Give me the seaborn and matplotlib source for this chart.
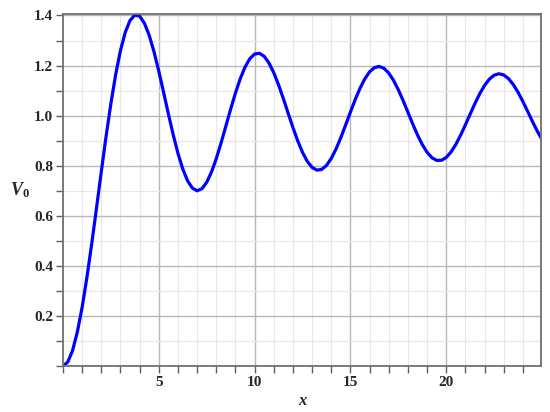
import matplotlib
matplotlib.use("Agg")
import matplotlib.pyplot as plt
import numpy as np
import pandas as pd
import seaborn as sns
from matplotlib.ticker import MultipleLocator

# ---- data ----
x_values = [0.0, 0.25, 0.5, 0.75, 1.0, 1.25, 1.5, 1.75, 2.0, 2.25, 2.5, 2.75,
            3.0, 3.25, 3.5, 3.75, 4.0, 4.25, 4.5, 4.75, 5.0, 5.25, 5.5, 5.75,
            6.0, 6.25, 6.5, 6.75, 7.0, 7.25, 7.5, 7.75, 8.0, 8.25, 8.5, 8.75,
            9.0, 9.25, 9.5, 9.75, 10.0, 10.25, 10.5, 10.75, 11.0, 11.25, 11.5, 11.75,
            12.0, 12.25, 12.5, 12.75, 13.0, 13.25, 13.5, 13.75, 14.0, 14.25, 14.5, 14.75,
            15.0, 15.25, 15.5, 15.75, 16.0, 16.25, 16.5, 16.75, 17.0, 17.25, 17.5, 17.75,
            18.0, 18.25, 18.5, 18.75, 19.0, 19.25, 19.5, 19.75, 20.0, 20.25, 20.5, 20.75,
            21.0, 21.25, 21.5, 21.75, 22.0, 22.25, 22.5, 22.75, 23.0, 23.25, 23.5, 23.75,
            24.0, 24.25, 24.5, 24.75, 25.0]
v0_values = [0.0000, 0.0156, 0.0615, 0.1358, 0.2348, 0.3541, 0.4882, 0.6310, 0.7761, 0.9173, 1.0484, 1.1641,
             1.2601, 1.3328, 1.3801, 1.4014, 1.3972, 1.3692, 1.3205, 1.2551, 1.1776, 1.0931, 1.0068, 0.9240,
             0.8494, 0.7869, 0.7399, 0.7105, 0.6999, 0.7080, 0.7337, 0.7748, 0.8283, 0.8908, 0.9581, 1.0260,
             1.0903, 1.1474, 1.1939, 1.2273, 1.2459, 1.2490, 1.2367, 1.2101, 1.1712, 1.1227, 1.0677, 1.0097,
             0.9523, 0.8991, 0.8531, 0.8171, 0.7931, 0.7822, 0.7850, 0.8010, 0.8289, 0.8669, 0.9125, 0.9626,
             1.0142, 1.0641, 1.1092, 1.1469, 1.1749, 1.1917, 1.1964, 1.1889, 1.1699, 1.1406, 1.1031, 1.0598,
             1.0134, 0.9668, 0.9228, 0.8843, 0.8534, 0.8319, 0.8211, 0.8216, 0.8330, 0.8546, 0.8849, 0.9220,
             0.9634, 1.0066, 1.0489, 1.0877, 1.1207, 1.1457, 1.1615, 1.1672, 1.1624, 1.1477, 1.1239, 1.0928,
             1.0562, 1.0166, 0.9763, 0.9379, 0.9037]
x_ticks = [5, 10, 15, 20]
x_tick_labels = ["5", "10", "15", "20"]
y_ticks = [0.2, 0.4, 0.6, 0.8, 1.0, 1.2, 1.4]
y_tick_labels = ["0.2", "0.4", "0.6", "0.8", "1.0", "1.2", "1.4"]
x_label = "x"
y_label = r"$V_{\mathit{0}}$"

sns.set_style("white")
plt.rcParams["font.family"] = ["Liberation Serif", "DejaVu Serif"]
plt.rcParams["font.weight"] = "bold"
plt.rcParams["mathtext.fontset"] = "custom"
plt.rcParams["mathtext.it"] = "Liberation Serif:italic:bold"
plt.rcParams["mathtext.rm"] = "Liberation Serif:bold"

fig = plt.figure(figsize=(5.5, 4.12), dpi=100)
ax = fig.add_axes([0.1145, 0.1117, 0.869, 0.8544])

df = pd.DataFrame({"x": x_values, "V0": v0_values})
sns.lineplot(data=df, x="x", y="V0", color="#0000ff", linewidth=2.3,
             estimator=None, sort=False, ax=ax)

ax.set_xlim(0, 24.94)
ax.set_ylim(0, 1.406)

ax.set_xticks(x_ticks)
ax.set_xticklabels(x_tick_labels)
ax.xaxis.set_minor_locator(MultipleLocator(1))
ax.set_yticks(y_ticks)
ax.set_yticklabels(y_tick_labels)
ax.yaxis.set_minor_locator(MultipleLocator(0.1))

ax.set_axisbelow(True)
ax.grid(which="minor", color="#e8e8e8", linewidth=0.9)
ax.grid(which="major", color="#b8b8b8", linewidth=1.0)

ax.tick_params(which="both", direction="out", length=5, width=1.0,
               color="#606060", bottom=True, left=True, top=False, right=False,
               labelsize=11)
ax.tick_params(axis="x", pad=2.5)
ax.tick_params(axis="y", pad=2)

for s in ax.spines.values():
    s.set_visible(True)
    s.set_color("#707070")
    s.set_linewidth(1.3)

ax.set_xlabel(x_label, fontsize=12, fontstyle="italic", fontweight="bold")
ax.xaxis.set_label_coords(0.5, -0.1, transform=ax.transAxes)
ax.xaxis.label.set_va("center")
ax.set_ylabel(y_label, fontsize=13, rotation=0, ha="center", va="center")
ax.yaxis.set_label_coords(-0.09, 0.5)

fig.savefig("out.png", dpi=100)
